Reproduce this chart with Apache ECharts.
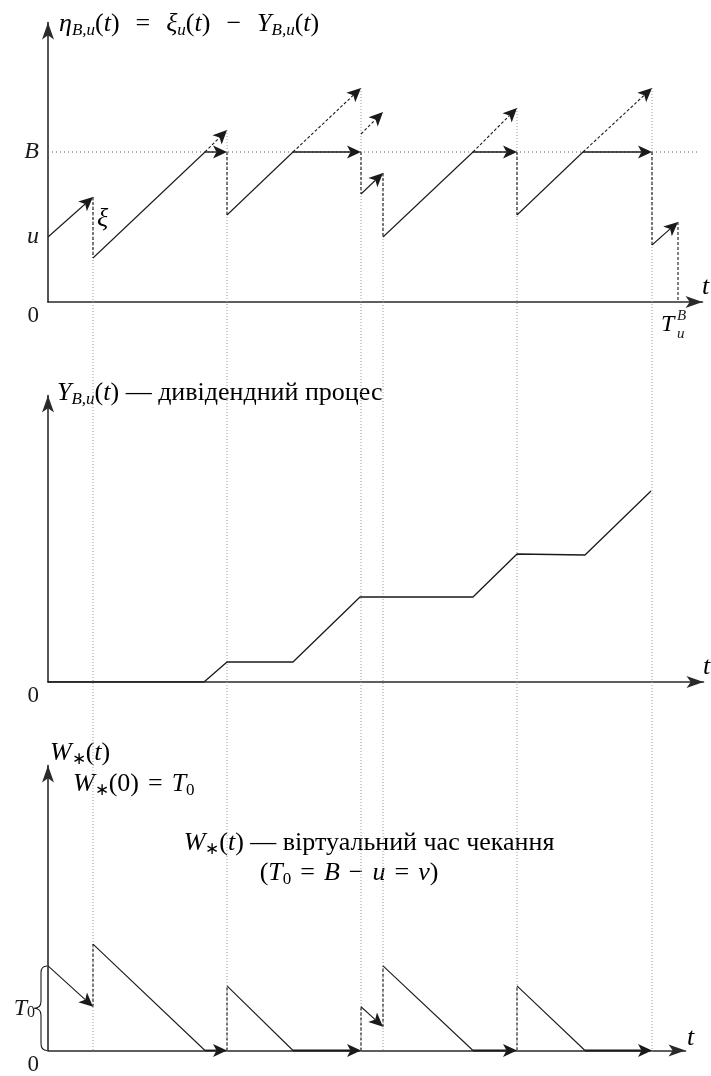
<!DOCTYPE html>
<html>
<head>
<meta charset="utf-8">
<script src="https://cdn.jsdelivr.net/npm/echarts@6/dist/echarts.min.js"></script>
<style>
html, body { margin: 0; padding: 0; background: #fff; }
#main { width: 711px; height: 1076px; }
</style>
</head>
<body>
<div id="main"></div>
<script>
// levels (1 unit = 10px of the original drawing)
var B = 15, u = 6.5, T0 = 8.5;
var jumpTimes = [4.5, 17.9, 31.3, 33.5, 46.9, 60.4];
var guideTops = [10.5, 17.2, 21.4, 12.9, 19.4, 21.4];
var guideBottom = -75;   // level of the lowest time axis, in top-panel units

// top panel: eta = xi - Y
var etaRise = [[4.5, 4.4, 15.7, 15], [17.9, 8.7, 24.5, 15], [33.5, 6.5, 42.5, 15], [46.9, 8.7, 53.5, 15]];
var etaRiseArrow = [[0, 6.5, 4.5, 10.5], [31.3, 10.8, 33.5, 12.9], [60.4, 5.7, 63.0, 8.0]];
var etaHoldArrow = [[15.7, 15, 17.9, 15], [24.5, 15, 31.3, 15], [42.5, 15, 46.9, 15], [53.5, 15, 60.4, 15]];
var etaOverArrow = [[15.7, 15, 17.9, 17.2], [24.5, 15, 31.3, 21.4], [31.3, 16.8, 33.5, 19.0], [42.5, 15, 46.9, 19.4], [53.5, 15, 60.4, 21.4]];
var etaJumps = [[4.5, 10.5, 4.5, 4.4], [17.9, 15, 17.9, 8.7], [31.3, 15, 31.3, 10.8], [33.5, 12.9, 33.5, 6.5], [46.9, 15, 46.9, 8.7], [60.4, 15, 60.4, 5.7], [63.0, 8.0, 63.0, 0]];
var bLine = [[0, 15, 64.9, 15]];
var etaTickValues = [0, 6.5, 15];
var etaTickLabels = ['0', 'u', 'B'];

// middle panel: dividends
var dividendT = [0, 15.6, 17.9, 24.5, 31.2, 42.5, 46.9, 53.7, 60.3];
var dividendY = [0, 0, 2.0, 2.0, 8.5, 8.5, 12.8, 12.7, 19.1];

// bottom panel: virtual waiting time
var waitFall = [[4.5, 10.7, 15.7, 0], [17.9, 6.5, 24.5, 0], [33.5, 8.5, 42.5, 0], [46.9, 6.5, 53.7, 0]];
var waitFallArrow = [[0, 8.5, 4.5, 4.4], [31.3, 4.4, 33.5, 2.4]];
var waitIdleArrow = [[15.7, 0, 17.9, 0], [24.5, 0, 31.3, 0], [42.5, 0, 46.9, 0], [53.7, 0, 60.4, 0]];
var waitJumps = [[4.5, 4.4, 4.5, 10.7], [17.9, 0, 17.9, 6.5], [31.3, 0, 31.3, 4.4], [33.5, 2.4, 33.5, 8.5], [46.9, 0, 46.9, 6.5]];
var waitTickValues = [0, 4.25];
var waitTickLabels = ['0', 'T0'];

var serif = 'Liberation Serif';
var ink = '#1a1a1a';
var rich = {
    n: { fontFamily: serif, fontSize: 26, lineHeight: 30, color: ink },
    i: { fontFamily: serif, fontStyle: 'italic', fontSize: 26, lineHeight: 30, color: ink },
    op: { fontFamily: serif, fontSize: 26, lineHeight: 30, color: ink, padding: [0, 9, 0, 9] },
    opw: { fontFamily: serif, fontSize: 26, lineHeight: 30, color: ink, padding: [0, 16, 0, 16] },
    s: { fontFamily: serif, fontStyle: 'italic', fontSize: 17, lineHeight: 15, verticalAlign: 'bottom', color: ink },
    so: { fontFamily: serif, fontSize: 17, lineHeight: 15, verticalAlign: 'bottom', color: ink },
    k: { fontFamily: serif, fontStyle: 'italic', fontSize: 24, lineHeight: 26, color: ink },
    kz: { fontFamily: serif, fontSize: 23, lineHeight: 26, color: ink, padding: [28, 0, 0, 0] },
    ks: { fontFamily: serif, fontSize: 16, lineHeight: 13, verticalAlign: 'bottom', color: ink, padding: [0, 4, 0, 0] }
};

function segments(panel, data, look) {
    return {
        type: 'custom',
        xAxisIndex: panel,
        yAxisIndex: panel,
        data: data,
        encode: { x: [0, 2], y: [1, 3] },
        z: look.z || 3,
        silent: true,
        renderItem: function (params, api) {
            var a = api.coord([api.value(0), api.value(1)]);
            var b = api.coord([api.value(2), api.value(3)]);
            var end = b;
            var kids = [];
            if (look.arrow) {
                var dx = b[0] - a[0], dy = b[1] - a[1];
                var len = Math.sqrt(dx * dx + dy * dy);
                var ux = dx / len, uy = dy / len;
                var L = 14, W = 6.5, notch = 3.5;
                var base = [b[0] - ux * L, b[1] - uy * L];
                var inner = [b[0] - ux * (L - notch), b[1] - uy * (L - notch)];
                kids.push({
                    type: 'polygon',
                    shape: { points: [b, [base[0] - uy * W, base[1] + ux * W], inner, [base[0] + uy * W, base[1] - ux * W]] },
                    style: { fill: ink }
                });
                end = inner;
            }
            kids.unshift({
                type: 'line',
                shape: { x1: a[0], y1: a[1], x2: end[0], y2: end[1] },
                style: { stroke: look.color || ink, lineWidth: look.width || 1.1, lineDash: look.dash || null }
            });
            return { type: 'group', children: kids };
        }
    };
}

function axisPair(idx, xMax, yMax, ticks, labels) {
    var line = { show: true, symbol: ['none', 'arrow'], symbolSize: [9, 17], lineStyle: { color: '#2a2a2a', width: 1.6 } };
    return {
        x: {
            type: 'value', gridIndex: idx, min: 0, max: xMax,
            axisLine: line, axisTick: { show: false }, splitLine: { show: false }, axisLabel: { show: false }
        },
        y: {
            type: 'value', gridIndex: idx, min: 0, max: yMax,
            axisLine: line, axisTick: { show: false }, splitLine: { show: false },
            axisLabel: {
                show: true, margin: 9, customValues: ticks, rich: rich,
                formatter: function (v) {
                    var k = ticks.indexOf(v);
                    var s = k < 0 ? '' : labels[k];
                    if (s === '0') return '{kz|0}';
                    if (s === 'T0') return '{k|T}{ks|0}';
                    return '{k|' + s + '}';
                }
            }
        }
    };
}

var a0 = axisPair(0, 65.45, 27.95, etaTickValues, etaTickLabels);
var a1 = axisPair(1, 65.55, 28.65, [0], ['0']);
var a2 = axisPair(2, 63.75, 28.65, waitTickValues, waitTickLabels);

var guides = jumpTimes.map(function (t, k) { return [t, guideTops[k], t, guideBottom]; });
var dividend = dividendT.map(function (t, k) { return [t, dividendY[k]]; });

function label(x, y, text, align) {
    return {
        type: 'text', x: x, y: y, silent: true,
        style: { text: text, rich: rich, align: align || 'left', verticalAlign: 'middle' }
    };
}

var chart = echarts.init(document.getElementById('main'), null, { renderer: 'canvas' });
chart.setOption({
    animation: false,
    backgroundColor: '#fff',
    grid: [
        { left: 48, top: 22.5, width: 654.5, height: 279.5 },
        { left: 48, top: 395.5, width: 655.5, height: 286.5 },
        { left: 48, top: 765.5, width: 637.5, height: 286.5 }
    ],
    xAxis: [a0.x, a1.x, a2.x],
    yAxis: [a0.y, a1.y, a2.y],
    series: [
        segments(0, guides, { color: '#9a9a9a', dash: [1, 2], width: 1, z: 1 }),
        segments(0, bLine, { color: '#555', dash: [1, 3], width: 1, z: 1 }),
        segments(0, etaRise, {}),
        segments(0, etaRiseArrow, { arrow: true }),
        segments(0, etaHoldArrow, { arrow: true, width: 1.4 }),
        segments(0, etaOverArrow, { arrow: true, dash: [3, 2] }),
        segments(0, etaJumps, { dash: [3, 2] }),
        {
            type: 'line', xAxisIndex: 1, yAxisIndex: 1, data: dividend,
            symbol: 'none', silent: true, z: 3,
            lineStyle: { color: ink, width: 1.3 }
        },
        segments(2, waitFall, {}),
        segments(2, waitFallArrow, { arrow: true }),
        segments(2, waitIdleArrow, { arrow: true, width: 1.8 }),
        segments(2, waitJumps, { dash: [3, 2] }),
        {
            type: 'custom', xAxisIndex: 2, yAxisIndex: 2, silent: true, z: 3,
            data: [[0, 0, T0]],
            renderItem: function (params, api) {
                var lo = api.coord([api.value(0), api.value(1)]);
                var hi = api.coord([api.value(0), api.value(2)]);
                var x0 = lo[0] - 1, xs = x0 - 6, xt = x0 - 13, r = 7;
                var yT = hi[1], yB = lo[1], ym = (yT + yB) / 2;
                var d = 'M' + x0 + ' ' + yT + ' Q' + xs + ' ' + yT + ' ' + xs + ' ' + (yT + r) +
                    ' L' + xs + ' ' + (ym - r) + ' Q' + xs + ' ' + ym + ' ' + xt + ' ' + ym +
                    ' Q' + xs + ' ' + ym + ' ' + xs + ' ' + (ym + r) +
                    ' L' + xs + ' ' + (yB - r) + ' Q' + xs + ' ' + yB + ' ' + x0 + ' ' + yB;
                return { type: 'path', shape: { pathData: d }, style: { stroke: ink, fill: null, lineWidth: 1.1 } };
            }
        }
    ],
    graphic: [
        label(59, 24, '{i|η}{s|B,u}{n|(}{i|t}{n|)}{opw|=}{i|ξ}{s|u}{n|(}{i|t}{n|)}{opw|−}{i|Y}{s|B,u}{n|(}{i|t}{n|)}'),
        label(97, 219, '{i|ξ}'),
        label(702, 287, '{i|t}'),
        label(661, 325, '{k|T}'),
        { type: 'text', x: 677, y: 316, silent: true, style: { text: 'B', font: 'italic 15px "Liberation Serif"', fill: ink, verticalAlign: 'middle' } },
        { type: 'text', x: 677, y: 334, silent: true, style: { text: 'u', font: 'italic 15px "Liberation Serif"', fill: ink, verticalAlign: 'middle' } },
        label(57, 393, '{i|Y}{s|B,u}{n|(}{i|t}{n|) — дивідендний процес}'),
        label(703, 667, '{i|t}'),
        label(50, 753, '{i|W}{so|∗}{n|(}{i|t}{n|)}'),
        label(73, 784, '{i|W}{so|∗}{n|(0)}{op|=}{i|T}{so|0}'),
        label(369, 843, '{i|W}{so|∗}{n|(}{i|t}{n|) — віртуальний час чекання}', 'center'),
        label(349, 873, '{n|(}{i|T}{so|0}{op|=}{i|B}{op|−}{i|u}{op|=}{i|v}{n|)}', 'center'),
        label(687, 1038, '{i|t}')
    ]
});
</script>
</body>
</html>
